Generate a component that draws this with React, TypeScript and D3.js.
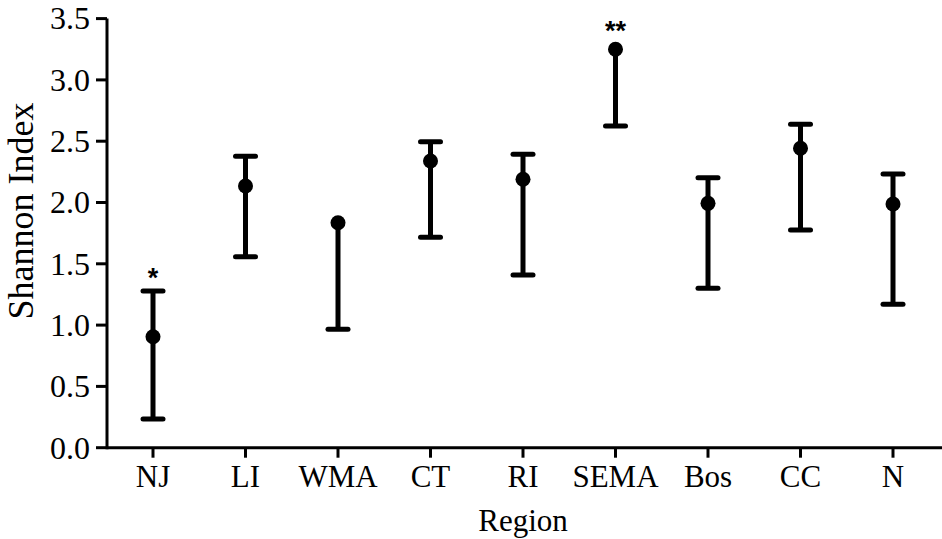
import React from "react";
import * as d3 from "d3";

const regions = ["NJ", "LI", "WMA", "CT", "RI", "SEMA", "Bos", "CC", "N"];
const means = [0.905, 2.134, 1.835, 2.338, 2.19, 3.25, 1.993, 2.442, 1.988];
const uppers = [1.278, 2.378, 1.835, 2.496, 2.393, 3.25, 2.202, 2.638, 2.232];
const lowers = [0.234, 1.558, 0.966, 1.716, 1.409, 2.624, 1.3, 1.776, 1.17];
const stars = ["*", "", "", "", "", "**", "", "", ""];
const yTicks = [0, 0.5, 1, 1.5, 2, 2.5, 3, 3.5];

const W = 942;
const H = 539;
const axisX = 107;
const axisY = 447.7;

export default function App() {
  const y = d3.scaleLinear().domain([0, 3.5]).range([axisY, 18.6]);
  const x = d3.scalePoint<string>().domain(regions).range([153, 893]);
  const serif = "'Liberation Serif', 'Times New Roman', serif";
  const capW = 10;
  const r = 7.5;
  return (
    <svg
      width={W}
      height={H}
      style={{ position: "absolute", left: 0, top: 0, background: "#fff" }}
    >
      {/* error bars */}
      {regions.map((reg, i) => {
        const cx = x(reg)!;
        const top = Math.min(y(uppers[i]) - 2.5, y(means[i]) - r);
        return (
          <g key={reg}>
            <line x1={cx} x2={cx} y1={y(uppers[i])} y2={y(lowers[i])} stroke="#000" strokeWidth={5} />
            {uppers[i] > means[i] && (
              <line x1={cx - capW} x2={cx + capW} y1={y(uppers[i])} y2={y(uppers[i])} stroke="#000" strokeWidth={5} strokeLinecap="round" />
            )}
            <line x1={cx - capW} x2={cx + capW} y1={y(lowers[i])} y2={y(lowers[i])} stroke="#000" strokeWidth={5} strokeLinecap="round" />
            <circle cx={cx} cy={y(means[i])} r={r} fill="#000" />
            {stars[i] && (
              <text
                x={cx}
                y={top - 2}
                textAnchor="middle"
                fontFamily="'Liberation Sans', Arial, sans-serif"
                fontWeight="bold"
                fontSize={27}
                fill="#000"
              >
                {stars[i]}
              </text>
            )}
          </g>
        );
      })}
      {/* y axis */}
      <line x1={axisX} x2={axisX} y1={y(3.5)} y2={axisY + 1.5} stroke="#000" strokeWidth={3} />
      {yTicks.map((t) => (
        <g key={t}>
          <line x1={96} x2={axisX} y1={y(t)} y2={y(t)} stroke="#000" strokeWidth={3} />
          <text
            x={90}
            y={y(t)}
            dy="0.34em"
            textAnchor="end"
            fontFamily={serif}
            fontSize={32}
            fill="#000"
          >
            {d3.format(".1f")(t)}
          </text>
        </g>
      ))}
      {/* x axis */}
      <line x1={axisX} x2={W} y1={axisY} y2={axisY} stroke="#000" strokeWidth={3} />
      {regions.map((reg) => (
        <g key={reg}>
          <line x1={x(reg)} x2={x(reg)} y1={axisY} y2={axisY + 10} stroke="#000" strokeWidth={3} />
          <text x={x(reg)} y={487} textAnchor="middle" fontFamily={serif} fontSize={31} fill="#000">
            {reg}
          </text>
        </g>
      ))}
      <text x={523} y={531} textAnchor="middle" fontFamily={serif} fontSize={31} fill="#000">
        Region
      </text>
      <text
        transform={`translate(33, 211) rotate(-90)`}
        textAnchor="middle"
        fontFamily={serif}
        fontSize={36}
        fill="#000"
      >
        Shannon Index
      </text>
    </svg>
  );
}
